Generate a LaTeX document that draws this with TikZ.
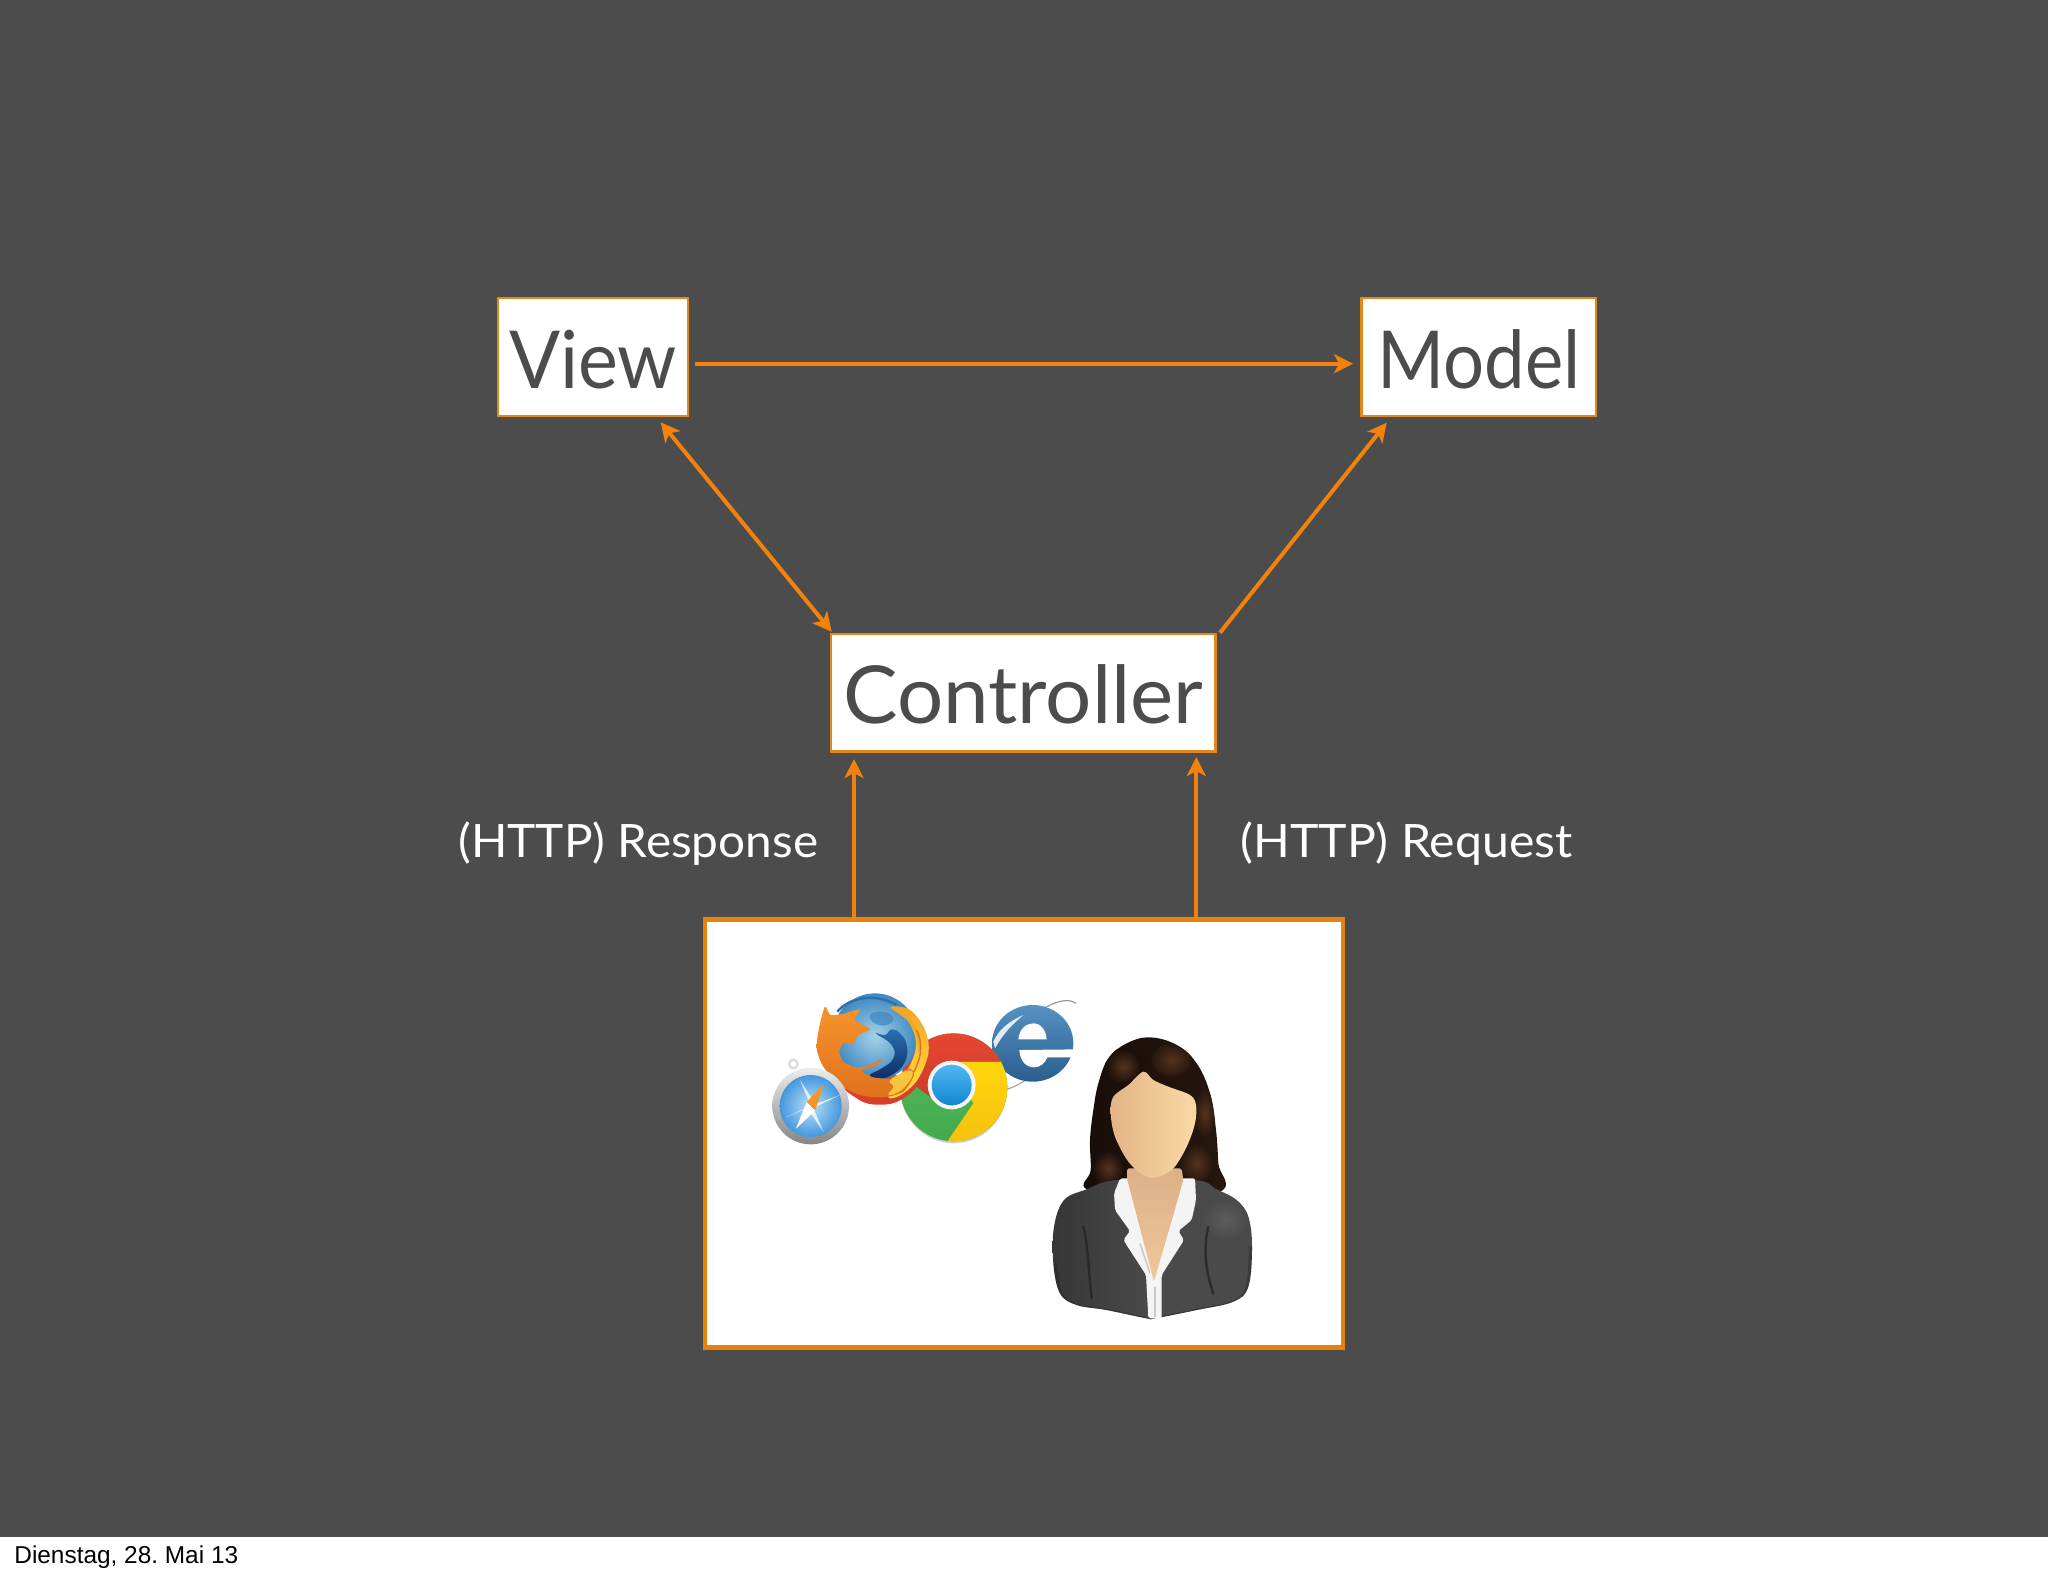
\documentclass[tikz,border=0pt]{standalone}
\usepackage{graphicx}
\usepackage{fontspec}
\usetikzlibrary{arrows.meta,calc}
\newfontfamily\gill{Lato}
\setmainfont{Liberation Sans}
\frenchspacing
\definecolor{slate}{HTML}{4D4C4D}
\definecolor{frameo}{HTML}{E3861B}
\definecolor{linko}{HTML}{F2820C}
\definecolor{bigo}{HTML}{E8830A}
\definecolor{inktext}{HTML}{4D4C4D}
% browser colours
\definecolor{chrRed}{HTML}{EC4C36}\definecolor{chrRedB}{HTML}{CE3A2A}
\definecolor{chrYel}{HTML}{FFD60A}\definecolor{chrYelB}{HTML}{F5BE10}
\definecolor{chrGrn}{HTML}{55BE5A}\definecolor{chrGrnB}{HTML}{42A84E}
\definecolor{chrBlu}{HTML}{4FB8F0}\definecolor{chrBluB}{HTML}{1285D2}
\definecolor{ieA}{HTML}{5592C2}\definecolor{ieB}{HTML}{2A5E8E}
\definecolor{ffO}{HTML}{F4952C}\definecolor{ffOD}{HTML}{E2701C}
\definecolor{ffY}{HTML}{FFE04A}\definecolor{ffYO}{HTML}{F2A522}
\definecolor{ffRed}{HTML}{D83E28}
\definecolor{ffBl}{HTML}{A4D2EA}\definecolor{ffBlD}{HTML}{3F88C0}
\definecolor{ffNavy}{HTML}{0C2E66}\definecolor{ffMid}{HTML}{2A6FB0}
\definecolor{safIn}{HTML}{B8E0F8}\definecolor{safOut}{HTML}{4597DE}
\definecolor{silverA}{HTML}{EDEDED}\definecolor{silverB}{HTML}{858585}
% person colours
\definecolor{hairA}{HTML}{170D08}\definecolor{hairB}{HTML}{26170F}
\definecolor{hairHi}{HTML}{55331F}
\definecolor{skinA}{HTML}{E3B486}\definecolor{skinB}{HTML}{FBD9A6}
\definecolor{skinC}{HTML}{DDB088}\definecolor{skinD}{HTML}{EFC898}
\definecolor{coatA}{HTML}{363636}\definecolor{coatB}{HTML}{4A4A4A}
\definecolor{coatD}{HTML}{202020}\definecolor{coatH}{HTML}{5C5C5C}
\definecolor{shirtA}{HTML}{F4F4F4}\definecolor{shirtB}{HTML}{C8C8C8}
\tikzset{
  boxnode/.style={draw=frameo,fill=white,line width=1.3pt,inner sep=0pt,outer sep=0pt,
    text=inktext,font=\gill\fontsize{40pt}{40pt}\selectfont,
    text height=44.9pt,text depth=13.9pt,minimum height=58.85pt},
  bigframe/.style={draw=bigo,fill=white,line width=2.2pt,inner sep=0pt,outer sep=0pt,
    minimum width=319pt,minimum height=214pt},
  flow/.style={draw=linko,line width=2pt,
    -{Stealth[length=9.5pt,width=9.5pt,inset=2.5pt]}},
  flowboth/.style={draw=linko,line width=2pt,
    {Stealth[length=9.5pt,width=9.5pt,inset=2.5pt]}-{Stealth[length=9.5pt,width=9.5pt,inset=2.5pt]}},
  flowlabel/.style={text=white,font=\gill\fontsize{23pt}{23pt}\selectfont,inner sep=0pt,anchor=base west},
  stamp/.style={text=black,font=\fontsize{12.2pt}{12.2pt}\selectfont,inner sep=0pt,anchor=base west},
  zoomA/.style={shift={(760,980)},x=.16667pt,y=-.16667pt},
  zoomB/.style={shift={(1040,1030)},x=.16667pt,y=-.16667pt},
}
\begin{document}
\begin{tikzpicture}[x=.5pt,y=-.5pt]
\useasboundingbox (0,0) rectangle (2048,1576);
\fill[white] (0,0) rectangle (2048,1576);
\fill[slate] (0,0) rectangle (2048,1537);

\node[boxnode,minimum width=95pt] (view) at (593,357) {\resizebox{84pt}{\height}{View}};
\node[boxnode,minimum width=117.15pt] (model) at (1478.9,357) {\resizebox{101.5pt}{\height}{Model}};
\node[boxnode,minimum width=192.3pt] (ctrl) at (1023.3,692.9) {\resizebox{180pt}{\height}{Controller}};
\node[bigframe] (client) at (1024,1133.5) {};

\node[flowlabel] (resp) at (458,857) {\resizebox{179.8pt}{\height}{(HTTP) Response}};
\node[flowlabel] (reqs) at (1240,857) {\resizebox{166pt}{\height}{(HTTP) Request}};
\node[stamp] (date) at (14,1563.5) {Dienstag, 28. Mai 13};

\draw[flow] ($(view.east)+(7,6.7)$) -- ($(model.west)+(-8.7,6.7)$);
\draw[flowboth] ($(view.south)+(67.7,6.45)$) -- ($(ctrl.north west)+(.7,-2.3)$);
\draw[flow] ($(ctrl.north east)+(4.4,-1.3)$) -- ($(model.south west)+(24.95,6.85)$);
\draw[flow] ($(client.north)+(-170,0)$) -- ($(ctrl.south west)+(23,7.3)$);
\draw[flow] ($(client.north)+(172.3,0)$) -- ($(ctrl.south east)+(-19.3,5.3)$);

% ---------- browsers ----------
\begin{scope}[zoomA]
% IE
\draw[gray!70,line width=.6pt] (735,330) .. controls (760,322) and (780,312) .. (800,298);
\draw[gray!80,line width=.6pt] (850,85) .. controls (880,70) and (920,50) .. (948,70);
\shade[top color=ieA,bottom color=ieB] (818,190) ellipse [x radius=122,y radius=115];
\fill[white] (775,178) .. controls (778,145) and (800,130) .. (820,130)
  .. controls (842,130) and (858,150) .. (860,178) -- cycle;
\fill[white] (778,210) .. controls (780,245) and (800,262) .. (822,262)
  .. controls (840,262) and (855,250) .. (862,232) -- (950,232) -- (950,208) -- cycle;
\fill[white,opacity=.85] (700,185) .. controls (715,150) and (745,125) .. (790,105)
  .. controls (755,135) and (730,160) .. (705,205) -- cycle;
% Chrome
\fill[gray!35] (581,328) ellipse [x radius=160,y radius=162];
\begin{scope}
\clip (581,322) ellipse [x radius=161,y radius=162];
\shade[bottom color=chrGrnB,top color=chrGrn] (400,150) rectangle (760,500);
\shade[top color=chrYel,bottom color=chrYelB]
  (575,245) -- (780,245) -- (780,520) -- (552,520) -- (565,480) -- (640,370) -- cycle;
\shade[top color=chrRed,bottom color=chrRedB]
  (575,245) -- (800,245) -- (800,100) -- (350,100) -- (350,230) -- (510,350) -- (575,315) -- cycle;
\end{scope}
\fill[white!92!gray] (575,315) ellipse [x radius=72,y radius=73];
\shade[top color=chrBlu,bottom color=chrBluB] (575,315) ellipse [x radius=60,y radius=61];
% Firefox
\fill[ffRed] plot[smooth cycle,tension=.7] coordinates {(245,300) (295,358) (360,374) (425,358) (475,305) (400,285)};
\shade[inner color=ffBl,outer color=ffBlD] (345,170) ellipse [x radius=128,y radius=130];
\draw[ffMid,line width=1.2pt] (232,95) .. controls (265,55) and (340,35) .. (410,75);
\shade[top color=ffMid,bottom color=ffNavy] plot[smooth cycle,tension=.8] coordinates {(348,160) (375,165) (395,148) (420,160) (440,195) (435,245) (400,282) (360,295) (330,285) (365,265) (400,235) (395,195)};
\fill[ffBlD,opacity=.7] plot[smooth cycle,tension=.8] coordinates {(330,105) (370,95) (400,115) (380,135) (345,130)};
\shade[top color=ffYO,bottom color=ffY] plot[smooth cycle,tension=.6] coordinates {(392,82) (450,90) (495,150) (505,220) (472,300) (422,345) (385,352) (412,305) (450,255) (468,190) (445,125)};
\draw[ffYO,line width=.9pt] (420,92) .. controls (460,120) and (480,170) .. (478,215);
\draw[ffOD,line width=.7pt] (470,150) .. controls (490,190) and (485,240) .. (455,285);
\shade[top color=ffO,bottom color=ffOD] plot[smooth cycle,tension=.45] coordinates {(195,80) (212,105) (255,100) (300,88) (283,118) (300,130) (330,148) (295,165) (280,190) (250,190) (238,215) (250,245) (290,262) (330,255) (368,235) (345,258) (305,272) (340,292) (400,295) (445,265) (462,285) (430,335) (370,352) (300,345) (240,315) (190,260) (170,205) (178,140)};
\fill[ffY,opacity=.75] plot[smooth cycle,tension=.7] coordinates {(390,300) (440,272) (458,285) (425,330) (385,345) (400,320)};
% Safari
\draw[silverA!80!gray,line width=1pt] (100,252) circle [radius=13];
\shade[top color=silverA,bottom color=silverB] (152,378) circle [radius=115];
\shade[inner color=safIn,outer color=safOut] (152,378) circle [radius=93];
\fill[white,opacity=.75] (152,378) -- (120,300) -- (166,372) -- (240,345) -- (160,384) -- (190,455) -- (142,385) -- (75,412) -- cycle;
\fill[ffO] (192,312) -- (165,392) -- (140,366) -- cycle;
\fill[white] (108,446) -- (165,392) -- (140,366) -- cycle;
\end{scope}

% ---------- person ----------
\begin{scope}[zoomB]
\begin{scope}
\clip plot[smooth cycle,tension=.65] coordinates {(330,22) (260,40) (205,85) (175,160) (160,240) (150,330) (152,420) (140,478) (300,510) (540,485) (535,400) (528,300) (510,190) (470,100) (410,45)};
\shade[left color=hairA,right color=hairB] (120,0) rectangle (560,520);
\shade[inner color=hairHi,outer color=hairA] (250,110) ellipse [x radius=55,y radius=55];
\shade[inner color=hairHi,outer color=hairB] (395,90) ellipse [x radius=60,y radius=50];
\shade[inner color=hairHi,outer color=hairB] (495,250) ellipse [x radius=32,y radius=70];
\shade[inner color=hairHi,outer color=hairA] (205,415) ellipse [x radius=50,y radius=55];
\shade[inner color=hairHi,outer color=hairB] (470,400) ellipse [x radius=48,y radius=55];
\end{scope}
\begin{scope}
\clip plot[smooth cycle,tension=.6] coordinates {(230,450) (140,478) (72,510) (42,590) (40,700) (60,790) (110,825) (200,840) (320,865) (345,865) (470,840) (580,815) (625,770) (636,650) (625,560) (590,510) (530,478) (465,450)};
\shade[left color=coatA,right color=coatB,middle color=coatB] (30,440) rectangle (650,870);
\shade[inner color=coatH,outer color=coatB] (555,570) ellipse [x radius=70,y radius=60];
\draw[coatD,line width=3pt,opacity=.35] plot[smooth,tension=.6] coordinates {(42,700) (60,795) (110,830) (200,845) (320,870) (345,870) (470,845) (580,820) (625,775) (636,650)};
\end{scope}
\draw[coatD,line width=1.2pt,line cap=round,opacity=.7] (130,590) .. controls (145,650) and (145,720) .. (155,805);
\draw[coatD,line width=1.2pt,line cap=round,opacity=.7] (505,590) .. controls (490,650) and (495,720) .. (520,790);
\fill[shirtA,rounded corners=1pt] (240,445) -- (222,490) -- (225,540) -- (270,603) -- (250,630) -- (318,735) -- (325,865) -- (365,865) -- (365,735) -- (432,630) -- (415,603) -- (455,570) -- (468,510) -- (465,445) -- (420,445) -- cycle;
\draw[shirtB,line width=.9pt] (345,770) -- (345,862);
\draw[shirtB,line width=.7pt] (300,640) -- (330,730);
\shade[top color=skinC,bottom color=skinD,rounded corners=1pt] (262,415) -- (262,450) -- (342,755) -- (430,450) -- (425,415) -- cycle;
\shade[left color=skinA,right color=skinB] plot[smooth cycle,tension=.55] coordinates {(310,125) (265,165) (220,200) (212,250) (225,320) (265,395) (310,435) (350,442) (400,415) (440,350) (465,280) (468,225) (450,195) (385,170) (340,150)};
\end{scope}
\end{tikzpicture}
\end{document}
